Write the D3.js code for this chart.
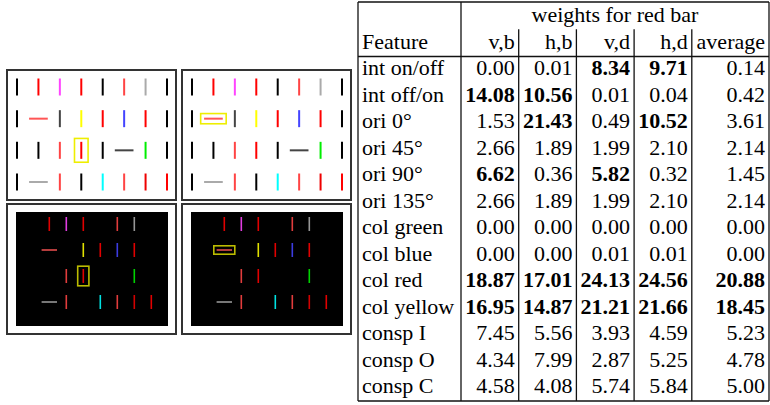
<!DOCTYPE html>
<html>
<head>
<meta charset="utf-8">
<script src="https://cdn.jsdelivr.net/npm/d3@7"></script>
<style>
	body { margin: 0; background: #fff; }
	svg { display: block; }
	.tbl text { font-family: "Liberation Serif", "Times New Roman", serif; font-size: 22px; fill: #000; }
	.tbl line { stroke: #111; stroke-width: 1.3; }
</style>
</head>
<body>
<div id="fig"></div>
<script>
var w = 770, h = 405;

// Table data
var features = ["int on/off", "int off/on", "ori 0°", "ori 45°", "ori 90°", "ori 135°",
	"col green", "col blue", "col red", "col yellow", "consp I", "consp O", "consp C"];
var columns = ["v,b", "h,b", "v,d", "h,d", "average"];
var valVB = [0.00, 14.08, 1.53, 2.66, 6.62, 2.66, 0.00, 0.00, 18.87, 16.95, 7.45, 4.34, 4.58];
var valHB = [0.01, 10.56, 21.43, 1.89, 0.36, 1.89, 0.00, 0.00, 17.01, 14.87, 5.56, 7.99, 4.08];
var valVD = [8.34, 0.01, 0.49, 1.99, 5.82, 1.99, 0.00, 0.01, 24.13, 21.21, 3.93, 2.87, 5.74];
var valHD = [9.71, 0.04, 10.52, 2.10, 0.32, 2.10, 0.00, 0.01, 24.56, 21.66, 4.59, 5.25, 5.84];
var valAvg = [0.14, 0.42, 3.61, 2.14, 1.45, 2.14, 0.00, 0.00, 20.88, 18.45, 5.23, 4.78, 5.00];
// rows printed in bold, per column
var boldVB = [1, 4, 8, 9];
var boldHB = [1, 2, 8, 9];
var boldVD = [0, 4, 8, 9];
var boldHD = [0, 2, 8, 9];
var boldAvg = [8, 9];

// Stimulus: 8 x 4 grid of bars, row by row
var barColors = [
	"#000", "#f00", "#f4f", "#f00", "#000", "#f44", "#aaa", "#000",
	"#000", "#f55", "#444", "#ff0", "#f00", "#44f", "#f00", "#000",
	"#000", "#000", "#f44", "#f00", "#000", "#444", "#0e0", "#000",
	"#000", "#aaa", "#f44", "#000", "#0ff", "#f44", "#e00", "#f00"
];
var horizBars = [9, 21, 25];

var svg = d3.select("#fig").append("svg")
	.attr("width", w)
	.attr("height", h);

/* ##########################################################################
#### Functions
# */
drawPanel = function(p) {
	var g = svg.append("g");

	// frame
	g.append("rect")
		.attr("x", p.x).attr("y", p.y)
		.attr("width", p.w).attr("height", p.h)
		.attr("fill", "#fff")
		.attr("stroke", "#333")
		.attr("stroke-width", 2);

	if (p.dark) {
		g.append("rect")
			.attr("x", p.bx).attr("y", p.by)
			.attr("width", p.bw).attr("height", p.bh)
			.attr("fill", "#000");
	}

	var xs = d3.scaleLinear().domain([0, 7]).range([p.gx0, p.gx1]);
	var ys = d3.scaleLinear().domain([0, 3]).range([p.gy0, p.gy1]);

	var cells = barColors.map(function(c, i) {
		return { i: i, col: i % 8, row: Math.floor(i / 8), color: c, horiz: horizBars.indexOf(i) >= 0 };
	});
	if (p.dark) {
		// black and dark gray bars vanish on the black background
		cells = cells.filter(function(d) { return d3.hsl(d.color).l > 0.35 || d3.color(d.color).r > 150; });
	}

	var half = p.len / 2;
	g.selectAll("line.bar")
		.data(cells)
		.enter()
		.append("line")
			.attr("class", "bar")
			.attr("x1", function(d) { return d.horiz ? xs(d.col) - half * 1.1 : xs(d.col); })
			.attr("x2", function(d) { return d.horiz ? xs(d.col) + half * 1.1 : xs(d.col); })
			.attr("y1", function(d) { return d.horiz ? ys(d.row) : ys(d.row) - half; })
			.attr("y2", function(d) { return d.horiz ? ys(d.row) : ys(d.row) + half; })
			.attr("stroke", function(d) { return p.dark ? d3.color(d.color).darker(0.35) : d.color; })
			.attr("stroke-width", p.sw);

	// yellow box round the target
	var t = cells.filter(function(d) { return d.i == p.target; })[0];
	var bw = t.horiz ? p.len * 1.5 : p.len * 0.8;
	var bh = t.horiz ? p.len * 0.6 : p.len * 1.4;
	g.append("rect")
		.attr("x", xs(t.col) - bw / 2)
		.attr("y", ys(t.row) - bh / 2)
		.attr("width", bw).attr("height", bh)
		.attr("fill", "none")
		.attr("stroke", p.dark ? "#bb0" : "#ee0")
		.attr("stroke-width", 1.6);
};

drawTable = function() {
	var g = svg.append("g").attr("class", "tbl");

	var left = 358, featRight = 461, right = 769;
	var top = 2, headH = 27.25, rowH = 26.5;
	var bodyTop = top + 2 * headH;
	var bottom = bodyTop + rowH * features.length;

	var colW = (right - featRight - 19.5) / 5;
	var edges = [featRight];
	for (var i = 0; i < 5; i++) {
		edges.push(edges[i] + colW + (i == 4 ? 19.5 : 0));
	}

	// horizontal rules
	[top, bodyTop, bottom].forEach(function(y) {
		g.append("line").attr("x1", left).attr("x2", right).attr("y1", y).attr("y2", y);
	});

	// vertical rules
	[left, featRight, right].forEach(function(x) {
		g.append("line").attr("x1", x).attr("x2", x).attr("y1", top).attr("y2", bottom);
	});
	edges.slice(1, 5).forEach(function(x) {
		g.append("line").attr("x1", x).attr("x2", x).attr("y1", top + headH).attr("y2", bottom);
	});

	// header
	g.append("text")
		.attr("x", (featRight + right) / 2)
		.attr("y", top + headH * 0.72)
		.attr("text-anchor", "middle")
		.text("weights for red bar");
	g.append("text")
		.attr("x", left + 4)
		.attr("y", top + headH * 1.72)
		.text("Feature");
	g.selectAll("text.colhead")
		.data(columns)
		.enter()
		.append("text")
			.attr("class", "colhead")
			.attr("x", function(d, i) { return edges[i + 1] - 4; })
			.attr("y", top + headH * 1.72)
			.attr("text-anchor", "end")
			.text(function(d) { return d; });

	// body
	g.selectAll("text.feat")
		.data(features)
		.enter()
		.append("text")
			.attr("class", "feat")
			.attr("x", left + 4)
			.attr("y", function(d, i) { return bodyTop + rowH * i + rowH * 0.7; })
			.text(function(d) { return d; });

	var series = [valVB, valHB, valVD, valHD, valAvg];
	var bolds = [boldVB, boldHB, boldVD, boldHD, boldAvg];
	series.forEach(function(vals, c) {
		g.selectAll("text.c" + c)
			.data(vals)
			.enter()
			.append("text")
				.attr("class", "c" + c)
				.attr("x", edges[c + 1] - 4)
				.attr("y", function(d, i) { return bodyTop + rowH * i + rowH * 0.7; })
				.attr("text-anchor", "end")
				.attr("font-weight", function(d, i) { return bolds[c].indexOf(i) >= 0 ? "bold" : "normal"; })
				.text(function(d) { return d.toFixed(2); });
	});
};

// Four stimulus panels
drawPanel({ x: 7, y: 70, w: 169, h: 130, dark: false, target: 19,
	gx0: 17, gx1: 167, gy0: 87, gy1: 182, len: 17, sw: 2 });
drawPanel({ x: 182, y: 70, w: 169, h: 130, dark: false, target: 9,
	gx0: 192, gx1: 342, gy0: 87, gy1: 182, len: 17, sw: 2 });
drawPanel({ x: 7, y: 204, w: 169, h: 130, dark: true, target: 19,
	bx: 16, by: 212, bw: 152, bh: 114,
	gx0: 32.3, gx1: 151.3, gy0: 224, gy1: 302, len: 14, sw: 1.6 });
drawPanel({ x: 182, y: 204, w: 169, h: 130, dark: true, target: 9,
	bx: 191, by: 212, bw: 152, bh: 114,
	gx0: 207.3, gx1: 326.3, gy0: 224, gy1: 302, len: 14, sw: 1.6 });

drawTable();
</script>
</body>
</html>
